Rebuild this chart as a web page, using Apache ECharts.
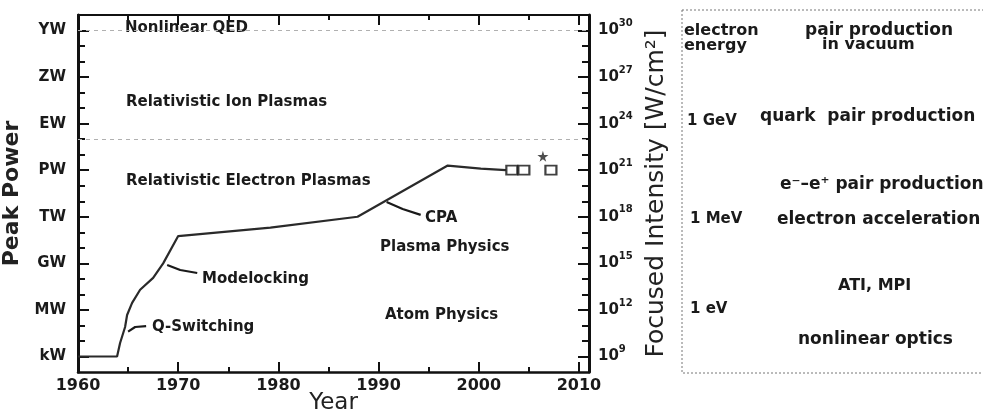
<!DOCTYPE html>
<html>
<head>
<meta charset="utf-8">
<script src="https://cdn.jsdelivr.net/npm/echarts@6/dist/echarts.min.js"></script>
<style>
html,body{margin:0;padding:0;background:#fff;}
#chart{width:983px;height:413px;}
</style>
</head>
<body>
<div id="chart"></div>
<script>
// ---- data (log10 of peak power in W) ----
const years = [1960, 1963.9, 1964.2, 1964.7, 1964.9, 1965.4, 1966.2, 1967.5, 1968.5, 1970.0, 1979.2, 1987.9, 1996.9, 2000.2, 2002.7];
const powerExp = [3, 3, 3.87, 4.9, 5.67, 6.45, 7.3, 8.06, 9.0, 10.76, 11.3, 12.0, 15.3, 15.1, 15.0];

const squareYears = [2003.3, 2004.5, 2007.2];
const squareExp = [15.0, 15.0, 15.0];
const starYears = [2006.4];
const starExp = [15.9];

const qsYears = [1965.0, 1965.7, 1966.8];
const qsExp = [4.6, 4.9, 4.96];
const mlYears = [1968.9, 1970.2, 1971.9];
const mlExp = [8.9, 8.57, 8.38];
const cpaYears = [1990.8, 1992.4, 1994.2];
const cpaExp = [12.95, 12.5, 12.12];

const thresholdExp = [17, 24];

// ---- ticks ----
const xLabelYears = [1960, 1970, 1980, 1990, 2000, 2010];
const xMinorYears = [1960, 1965, 1970, 1975, 1980, 1985, 1990, 1995, 2000, 2005, 2010];
const powerTickExp = [3, 6, 9, 12, 15, 18, 21, 24];
const powerTickLabels = ['kW', 'MW', 'GW', 'TW', 'PW', 'EW', 'ZW', 'YW'];
const powerMinorExp = [3,4,5,6,7,8,9,10,11,12,13,14,15,16,17,18,19,20,21,22,23,24];
const intensityTickExp = [9, 12, 15, 18, 21, 24, 27, 30];
const intensityTickLabels = ['9', '12', '15', '18', '21', '24', '27', '30'];
const intensityMinorExp = powerMinorExp.map(v => v + 6);

const pair = (xs, ys) => xs.map((x, i) => [x, ys[i]]);
const FONT = 'DejaVu Sans';
const INK = '#1a1a1a';

const chart = echarts.init(document.getElementById('chart'), null, {renderer: 'canvas'});

const baseX = {type: 'value', min: 1960, max: 2011, splitLine: {show: false}};
const baseYL = {type: 'value', min: 2, max: 25, splitLine: {show: false}};
const baseYR = {type: 'value', min: 8, max: 31, splitLine: {show: false}};

const option = {
  backgroundColor: '#fff',
  animation: false,
  grid: {left: 78, right: 394, top: 15, bottom: 41, containLabel: false, outerBoundsMode: 'none'},
  xAxis: [
    Object.assign({}, baseX, {
      position: 'bottom',
      name: 'Year', nameLocation: 'middle', nameGap: 20, nameMoveOverlap: false,
      nameTextStyle: {fontFamily: FONT, fontSize: 23, color: '#222'},
      axisLine: {show: true, lineStyle: {color: '#111', width: 2.5}},
      axisTick: {show: true, inside: true, length: 5, customValues: xMinorYears, lineStyle: {color: '#111', width: 2}},
      axisLabel: {show: true, customValues: xLabelYears, margin: 6, fontFamily: FONT, fontSize: 16, fontWeight: 'bold', color: INK,
        formatter: v => String(Math.round(v))}
    }),
    Object.assign({}, baseX, {
      position: 'bottom',
      axisLine: {show: false},
      axisTick: {show: true, inside: true, length: 10, customValues: xLabelYears, lineStyle: {color: '#111', width: 2}},
      axisLabel: {show: false}
    }),
    Object.assign({}, baseX, {
      position: 'top',
      axisLine: {show: true, lineStyle: {color: '#111', width: 2}},
      axisTick: {show: true, inside: true, length: 5, customValues: xMinorYears, lineStyle: {color: '#111', width: 2}},
      axisLabel: {show: false}
    }),
    Object.assign({}, baseX, {
      position: 'top',
      axisLine: {show: false},
      axisTick: {show: true, inside: true, length: 10, customValues: xLabelYears, lineStyle: {color: '#111', width: 2}},
      axisLabel: {show: false}
    })
  ],
  yAxis: [
    Object.assign({}, baseYL, {
      position: 'left',
      name: 'Peak Power', nameLocation: 'middle', nameGap: 46,
      nameTextStyle: {fontFamily: FONT, fontSize: 22, fontWeight: 'bold', color: '#222'},
      axisLine: {show: true, lineStyle: {color: '#111', width: 3}},
      axisTick: {show: true, inside: true, length: 7, customValues: powerMinorExp, lineStyle: {color: '#111', width: 2}},
      axisLabel: {show: true, customValues: powerTickExp, margin: 12, fontFamily: FONT, fontSize: 15, fontWeight: 'bold', color: INK,
        formatter: v => powerTickLabels[powerTickExp.indexOf(Math.round(v))] || ''}
    }),
    Object.assign({}, baseYL, {
      position: 'left',
      axisLine: {show: false},
      axisTick: {show: true, inside: true, length: 11, customValues: powerTickExp, lineStyle: {color: '#111', width: 2}},
      axisLabel: {show: false}
    }),
    Object.assign({}, baseYR, {
      position: 'right',
      name: 'Focused Intensity [W/cm²]', nameLocation: 'middle', nameGap: 53, nameRotate: 90,
      nameTextStyle: {fontFamily: FONT, fontSize: 25, color: '#222'},
      axisLine: {show: true, lineStyle: {color: '#111', width: 3}},
      axisTick: {show: true, inside: true, length: 7, customValues: intensityMinorExp, lineStyle: {color: '#111', width: 2}},
      axisLabel: {show: true, customValues: intensityTickExp, margin: 9,
        formatter: v => '{b|10}{s|' + (intensityTickLabels[intensityTickExp.indexOf(Math.round(v))] || '') + '}',
        rich: {
          b: {fontFamily: FONT, fontSize: 15, fontWeight: 'bold', color: INK, padding: [0, 0, 0, 0]},
          s: {fontFamily: FONT, fontSize: 10, fontWeight: 'bold', color: INK, padding: [0, 0, 14, 0]}
        }}
    }),
    Object.assign({}, baseYR, {
      position: 'right',
      axisLine: {show: false},
      axisTick: {show: true, inside: true, length: 11, customValues: intensityTickExp, lineStyle: {color: '#111', width: 2}},
      axisLabel: {show: false}
    })
  ],
  series: [
    {
      type: 'line', name: 'peak power', xAxisIndex: 0, yAxisIndex: 0,
      data: pair(years, powerExp), showSymbol: false, symbol: 'none',
      lineStyle: {color: '#2a2a2a', width: 2.2},
      markLine: {
        silent: true, symbol: 'none', label: {show: false},
        lineStyle: {color: '#b0b0b0', width: 1, type: [4, 4]},
        data: thresholdExp.map(v => ({yAxis: v}))
      },
      z: 3
    },
    {type: 'line', xAxisIndex: 0, yAxisIndex: 0, data: pair(qsYears, qsExp), symbol: 'none', lineStyle: {color: '#1a1a1a', width: 2.2}},
    {type: 'line', xAxisIndex: 0, yAxisIndex: 0, data: pair(mlYears, mlExp), symbol: 'none', lineStyle: {color: '#1a1a1a', width: 2.2}},
    {type: 'line', xAxisIndex: 0, yAxisIndex: 0, data: pair(cpaYears, cpaExp), symbol: 'none', lineStyle: {color: '#1a1a1a', width: 2.2}},
    {
      type: 'scatter', xAxisIndex: 0, yAxisIndex: 0, data: pair(squareYears, squareExp),
      symbol: 'rect', symbolSize: [11, 9],
      itemStyle: {color: '#fff', borderColor: '#111', borderWidth: 2}, z: 4
    },
    {
      type: 'scatter', xAxisIndex: 0, yAxisIndex: 0, data: pair(starYears, starExp),
      symbol: 'path://M50,0 L61,35 L98,35 L68,57 L79,91 L50,70 L21,91 L32,57 L2,35 L39,35 Z', symbolSize: 11,
      itemStyle: {color: '#222'}, z: 4
    }
  ],
  graphic: [
    // region labels inside the plot
    {type: 'text', left: 125, top: 21, style: {text: 'Nonlinear QED', fontFamily: FONT, fontSize: 15, fontWeight: 'bold', fill: INK}},
    {type: 'text', left: 126, top: 95, style: {text: 'Relativistic Ion Plasmas', fontFamily: FONT, fontSize: 15, fontWeight: 'bold', fill: INK}},
    {type: 'text', left: 126, top: 174, style: {text: 'Relativistic Electron Plasmas', fontFamily: FONT, fontSize: 15, fontWeight: 'bold', fill: INK}},
    {type: 'text', left: 425, top: 211, style: {text: 'CPA', fontFamily: FONT, fontSize: 15, fontWeight: 'bold', fill: INK}},
    {type: 'text', left: 380, top: 240, style: {text: 'Plasma Physics', fontFamily: FONT, fontSize: 15, fontWeight: 'bold', fill: INK}},
    {type: 'text', left: 202, top: 272, style: {text: 'Modelocking', fontFamily: FONT, fontSize: 15, fontWeight: 'bold', fill: INK}},
    {type: 'text', left: 385, top: 308, style: {text: 'Atom Physics', fontFamily: FONT, fontSize: 15, fontWeight: 'bold', fill: INK}},
    {type: 'text', left: 152, top: 320, style: {text: 'Q-Switching', fontFamily: FONT, fontSize: 15, fontWeight: 'bold', fill: INK}},
    // right panel
    {type: 'rect', shape: {x: 682, y: 10, width: 320, height: 363}, style: {fill: 'none', stroke: '#777', lineWidth: 1, lineDash: [2, 2]}},
    {type: 'text', left: 684, top: 23, style: {text: 'electron\nenergy', lineHeight: 15, fontFamily: FONT, fontSize: 16, fontWeight: 'bold', fill: INK}},
    {type: 'text', left: 805, top: 22, style: {text: 'pair production', fontFamily: FONT, fontSize: 17, fontWeight: 'bold', fill: INK}},
    {type: 'text', left: 822, top: 37, style: {text: 'in vacuum', fontFamily: FONT, fontSize: 16, fontWeight: 'bold', fill: INK}},
    {type: 'text', left: 687, top: 114, style: {text: '1 GeV', fontFamily: FONT, fontSize: 15, fontWeight: 'bold', fill: INK}},
    {type: 'text', left: 760, top: 108, style: {text: 'quark  pair production', fontFamily: FONT, fontSize: 17, fontWeight: 'bold', fill: INK}},
    {type: 'text', left: 780, top: 176, style: {text: 'e⁻–e⁺ pair production', fontFamily: FONT, fontSize: 17, fontWeight: 'bold', fill: INK}},
    {type: 'text', left: 690, top: 212, style: {text: '1 MeV', fontFamily: FONT, fontSize: 15, fontWeight: 'bold', fill: INK}},
    {type: 'text', left: 777, top: 211, style: {text: 'electron acceleration', fontFamily: FONT, fontSize: 17, fontWeight: 'bold', fill: INK}},
    {type: 'text', left: 838, top: 278, style: {text: 'ATI, MPI', fontFamily: FONT, fontSize: 16, fontWeight: 'bold', fill: INK}},
    {type: 'text', left: 690, top: 302, style: {text: '1 eV', fontFamily: FONT, fontSize: 15, fontWeight: 'bold', fill: INK}},
    {type: 'text', left: 798, top: 331, style: {text: 'nonlinear optics', fontFamily: FONT, fontSize: 17, fontWeight: 'bold', fill: INK}}
  ]
};
chart.setOption(option);
</script>
</body>
</html>
